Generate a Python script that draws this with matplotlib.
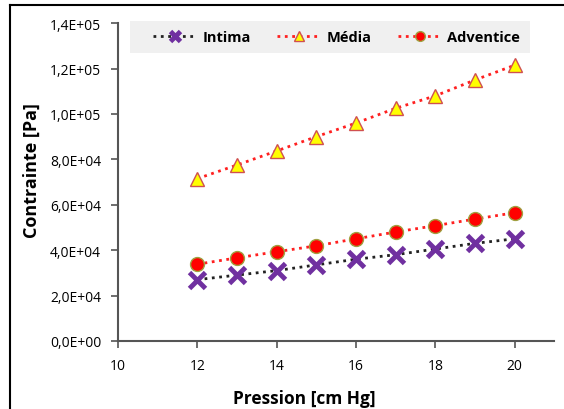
import matplotlib
matplotlib.use('Agg')
import matplotlib.pyplot as plt
from matplotlib.lines import Line2D
from matplotlib.patches import Rectangle
from matplotlib.ticker import FuncFormatter

pression = [12, 13, 14, 15, 16, 17, 18, 19, 20]
intima = [27000, 29000, 31000, 33500, 36000, 38000, 40500, 43000, 45000]
media = [71500, 77500, 83700, 90000, 96000, 102500, 108000, 115000, 121500]
adventice = [33800, 36600, 39300, 41900, 45000, 48000, 50800, 53700, 56500]

plt.rcParams['font.family'] = ['Open Sans', 'DejaVu Sans']

fig = plt.figure(figsize=(5.64, 4.10), dpi=100)
ax = fig.add_axes([0.209, 0.166, 0.774, 0.775])

ax.plot(pression, intima, ':', color='#222222', lw=2, marker='x', ms=11, mew=3.5,
        mec='#7030a0', label='Intima', zorder=3)
ax.plot(pression, media, ':', color='#ff2020', lw=2, marker='^', ms=10, mfc='#ffff00',
        mec='#d05050', mew=1, label='Média', zorder=3)
ax.plot(pression, adventice, ':', color='#ff2020', lw=2, marker='o', ms=10, mfc='#ff0000',
        mec='#a0a040', mew=1, label='Adventice', zorder=3)

ax.set_xlim(10, 21)
ax.set_ylim(0, 140000)
ax.set_xticks([10, 12, 14, 16, 18, 20])
ax.set_yticks(range(0, 140001, 20000))
ax.yaxis.set_major_formatter(FuncFormatter(lambda v, p: f"{v/10**5 if v >= 1e5 else v/10**4:.1f}".replace('.', ',') + ('E+05' if v >= 1e5 else ('E+04' if v > 0 else 'E+00'))))
ax.tick_params(labelsize=10, length=5, color='#555555', width=1.2)
ax.tick_params(axis='y', pad=7)
ax.tick_params(axis='x', pad=7)
for s in ['top', 'right']:
    ax.spines[s].set_visible(False)
for s in ['left', 'bottom']:
    ax.spines[s].set_color('#555555')
    ax.spines[s].set_linewidth(1.5)

ax.set_xlabel('Pression [cm Hg]', fontsize=12.5, fontweight='bold', va='center')
ax.set_ylabel('Contrainte [Pa]', fontsize=13, fontweight='bold', va='center')
ax.xaxis.set_label_coords(0.427, -0.18)
ax.yaxis.set_label_coords(-0.197, 0.54)

# legend background box
ax.add_patch(Rectangle((0.027, 0.906), 0.918, 0.1, transform=ax.transAxes,
                       facecolor='#f0f0f0', edgecolor='none', clip_on=False, zorder=1))
leg = ax.legend(loc='center left', bbox_to_anchor=(0.08, 0.956), ncol=3, frameon=False,
                prop={'weight': 'bold', 'size': 10.5}, handlelength=3.0, markerscale=0.7,
                borderpad=0, borderaxespad=0, handletextpad=0.4, columnspacing=1.8)

# outer chart border (left and top visible)
fig.add_artist(Line2D([10/564, 10/564], [0, 1 - 6/410], color='black', lw=1.5))
fig.add_artist(Line2D([10/564, 1], [1 - 6/410, 1 - 6/410], color='black', lw=1.5))

fig.savefig('out.png', dpi=100)
